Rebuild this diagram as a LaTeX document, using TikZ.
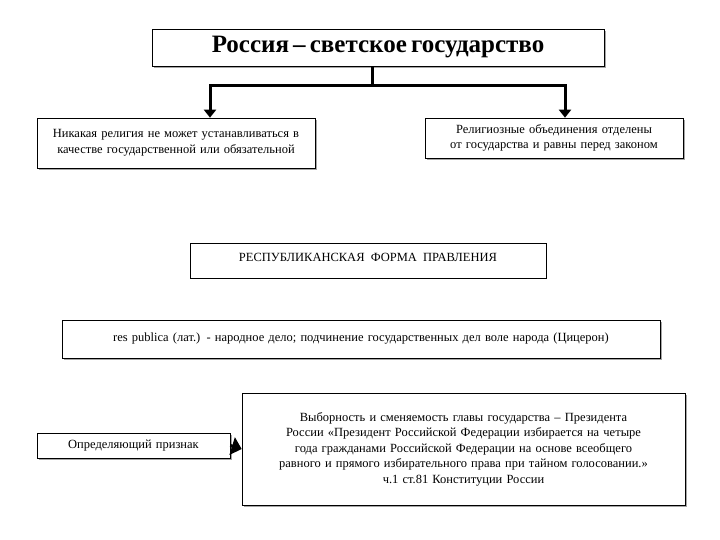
\documentclass[tikz,border=0pt]{standalone}
\usepackage{fontspec}
\setmainfont{Liberation Serif}
\usetikzlibrary{arrows.meta}
\begin{document}
\begin{tikzpicture}[x=1pt,y=-1pt,
  box/.style={draw,line width=0.6pt,fill=white,inner sep=1pt,align=center,font=\fontsize{12.5}{15.5}\selectfont},
  conn/.style={line width=3pt,-{Triangle[length=8pt,width=12pt]}}]
\useasboundingbox (0,0) rectangle (720,540);
\newcommand{\bx}[6]{% name, x1,y1,x2,y2, text
  \fill[gray!70] (#2+2,#3+2) rectangle (#4+2,#5+2);
  \node[box,minimum width=#4-#2,minimum height=#5-#3,text width=#4-#2-4] (#1) at ({(#2+#4)/2},{(#3+#5)/2}) {#6};}
\bx{t}{152}{29}{604}{66}{\fontsize{25}{27}\selectfont\bfseries Россия – светское государство}
\bx{l}{37}{118}{315}{168}{Никакая религия не может устанавливаться в качестве государственной или обязательной}
\bx{r}{425}{118}{683}{158}{Религиозные объединения отделены от государства и равны перед законом}
\node[draw,line width=0.6pt,minimum width=356,minimum height=35,anchor=north west,inner sep=0pt] (f) at (190,243) {};
\node[anchor=north,font=\fontsize{12.5}{14}\selectfont] (ft) at (368,250) {РЕСПУБЛИКАНСКАЯ\ \ ФОРМА\ \ ПРАВЛЕНИЯ};
\bx{p}{62}{320}{660}{358}{res publica (лат.) - народное дело; подчинение государственных дел воле народа (Цицерон)}
\bx{d}{37}{433}{230}{458}{Определяющий признак}
\bx{v}{242}{393}{685}{505}{Выборность и сменяемость главы государства – Президента России «Президент Российской Федерации избирается на четыре года гражданами Российской Федерации на основе всеобщего равного и прямого избирательного права при тайном голосовании.»\\ ч.1 ст.81 Конституции России}
\coordinate (j) at (372,86);
\draw[line width=3pt] (t.south -| j) -- (j);
\draw[conn] (j) -| (l.north -| 210,0);
\draw[conn] (j) -| (r.north -| 565,0);
\draw[line width=3pt,-{Triangle[length=10pt,width=18pt]}] (d.east) -- (v.west);
\end{tikzpicture}
\end{document}
